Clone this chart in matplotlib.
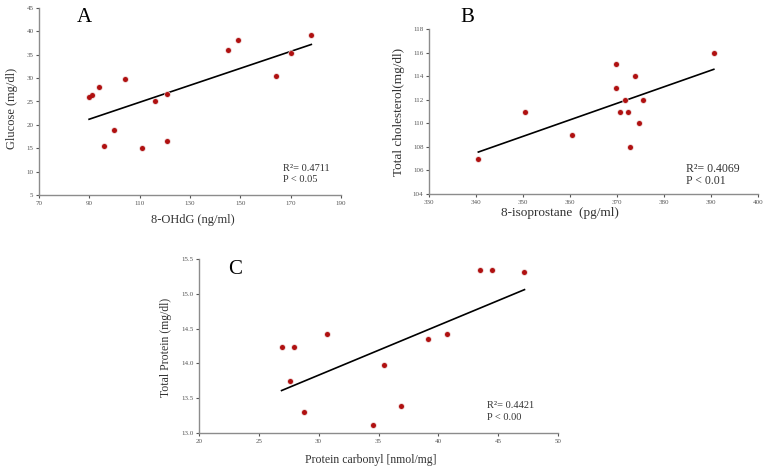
import numpy as np
import matplotlib
matplotlib.use('Agg')
import matplotlib.pyplot as plt

plt.rcParams['font.family'] = ['Liberation Serif', 'DejaVu Serif']

# Panel A: 8-OHdG vs glucose
ohdg = [89.9, 91.0, 93.9, 95.9, 99.7, 104.0, 110.8, 115.9, 120.8, 120.8, 145.1, 149.0, 164.0, 170.1, 178.2]
glucose = [25.9, 26.4, 28.0, 15.5, 18.8, 29.9, 15.0, 25.0, 26.5, 16.5, 36.1, 38.1, 30.4, 35.3, 39.2]

# Panel B: 8-isoprostane vs total cholesterol
isop = [340.5, 350.4, 360.5, 369.7, 369.7, 371.6, 370.7, 372.3, 372.8, 373.8, 374.7, 375.5, 390.6]
chol = [107, 111, 109, 115, 113, 112, 111, 111, 108, 114, 110, 112, 116]

# Panel C: protein carbonyl vs total protein
carbonyl = [26.9, 27.9, 27.6, 28.8, 30.7, 34.5, 35.5, 36.9, 39.1, 40.7, 43.5, 44.5, 47.2]
protein = [14.24, 14.24, 13.75, 13.30, 14.42, 13.12, 13.98, 13.39, 14.35, 14.42, 15.34, 15.34, 15.31]

# trend line ends
fit_a = [(89.9, 21.2), (178.2, 37.2)]
fit_b = [(340.5, 107.56), (390.6, 114.58)]
fit_c = [(26.9, 13.61), (47.2, 15.06)]

W, H = 767, 473
fig = plt.figure(figsize=(W / 100, H / 100), dpi=100)


def make_axes(l, r, t, b):
    return fig.add_axes([l / W, 1 - b / H, (r - l) / W, (b - t) / H])


def txt(x, y, s, **kw):
    kw.setdefault('color', '#333333')
    kw.setdefault('va', 'center')
    fig.text(x / W, 1 - y / H, s, **kw)


def style(ax, xlim, ylim, xticks, yticks, fmt):
    ax.set_xlim(xlim)
    ax.set_ylim(ylim)
    ax.set_xticks(xticks)
    ax.set_yticks(yticks)
    ax.set_yticklabels([fmt % v for v in yticks])
    for s in ['top', 'right']:
        ax.spines[s].set_visible(False)
    for s in ['left', 'bottom']:
        ax.spines[s].set_color('#8c8c8c')
        ax.spines[s].set_linewidth(1.0)
    ax.tick_params(labelsize=5, colors='#555555', length=2, width=0.8, pad=2)


def panel(ax, x, y, fit):
    ax.scatter(x, y, s=22, color='#e8c8c8', zorder=2, linewidths=0)
    ax.scatter(x, y, s=13, color='#b01010', zorder=3, linewidths=0)
    (x0, y0), (x1, y1) = fit
    ax.plot([x0, x1], [y0, y1], color='black', lw=1.2, zorder=1)


axA = make_axes(39, 341, 8, 195)
panel(axA, ohdg, glucose, fit_a)
style(axA, (70, 190), (5, 45), range(70, 191, 20), range(5, 46, 5), '%d')
txt(193, 220, '8-OHdG (ng/ml)', fontsize=9, ha='center')
txt(12, 108, 'Glucose (mg/dl)', fontsize=9, ha='center', rotation=90)
txt(84, 17, 'A', fontsize=15, ha='center', color='black')
txt(283, 168, 'R²= 0.4711', fontsize=7.5)
txt(283, 179, 'P < 0.05', fontsize=7.5)

axB = make_axes(429, 758, 29, 194)
panel(axB, isop, chol, fit_b)
style(axB, (330, 400), (104, 118), range(330, 401, 10), range(104, 119, 2), '%d')
txt(560, 213, '8-isoprostane  (pg/ml)', fontsize=9.5, ha='center')
txt(399, 112, 'Total cholesterol(mg/dl)', fontsize=9.5, ha='center', rotation=90)
txt(467, 17, 'B', fontsize=15, ha='center', color='black')
txt(686, 169, 'R²= 0.4069', fontsize=8.5)
txt(686, 181, 'P < 0.01', fontsize=8.5)

axC = make_axes(199, 558, 259, 433)
panel(axC, carbonyl, protein, fit_c)
style(axC, (20, 50), (13.0, 15.5), range(20, 51, 5), np.arange(13.0, 15.51, 0.5), '%.1f')
txt(371, 460, 'Protein carbonyl [nmol/mg]', fontsize=8.5, ha='center')
txt(166, 347, 'Total Protein (mg/dl)', fontsize=8.5, ha='center', rotation=90)
txt(235, 269, 'C', fontsize=15, ha='center', color='black')
txt(487, 406, 'R²= 0.4421', fontsize=7.5)
txt(487, 417, 'P < 0.00', fontsize=7.5)

fig.savefig('out.png', dpi=100)
